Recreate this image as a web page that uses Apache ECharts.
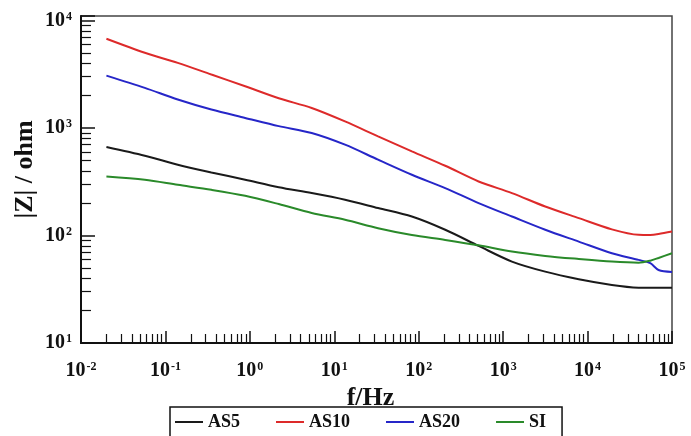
<!DOCTYPE html>
<html>
<head>
<meta charset="utf-8">
<script src="https://cdn.jsdelivr.net/npm/echarts@6/dist/echarts.min.js"></script>
<style>
  html, body { margin: 0; padding: 0; background: #fff; }
  #chart { width: 691px; height: 436px; }
</style>
</head>
<body>
<div id="chart"></div>
<script>
// frequency points (Hz)
const freq = [0.02, 0.057, 0.14, 0.35, 0.88, 2.2, 5.4, 13.4, 33, 83, 206, 512, 1270, 3150, 7870, 19400, 40200, 55300, 69300, 100000]
// |Z| in ohm for each sample
const as5  = [665, 552, 455, 386, 330, 281, 248, 215, 180, 150, 113, 80, 57.2, 46.1, 39.2, 34.7, 32.7, 32.6, 32.6, 32.7]
const as10 = [6750, 5000, 4035, 3140, 2443, 1888, 1535, 1151, 835, 605, 445, 318, 248, 186, 145, 114, 101.4, 101, 103, 108.7]
const as20 = [3070, 2360, 1837, 1483, 1240, 1040, 898, 699, 507, 367, 276, 200, 150, 113, 87.7, 68.4, 59.3, 55.2, 47.8, 45.8]
const si   = [354, 330, 296, 266, 234, 196, 162, 140, 117, 101, 91, 81, 70.8, 64.6, 60.5, 57.2, 55.9, 58.3, 61.8, 68.4]

const seriesNames = ['AS5', 'AS10', 'AS20', 'SI']
const seriesColors = ['#1a1a1a', '#dd2a2a', '#2626c8', '#2a8a2a']
const seriesValues = [as5, as10, as20, si]

const font = 'Liberation Serif, Times New Roman, serif'

function powLabel(value) {
  const e = Math.log10(value)
  if (Math.abs(e - Math.round(e)) > 1e-6) return ''
  return '{b|10}{s|' + Math.round(e) + '}'
}
const labelRich = {
  b: { fontFamily: font, fontWeight: 'bold', fontSize: 20, color: '#111' },
  s: { fontFamily: font, fontWeight: 'bold', fontSize: 12, color: '#111', verticalAlign: 'top', padding: [0, 0, 6, 1] }
}

const chart = echarts.init(document.getElementById('chart'))

chart.setOption({
  animation: false,
  grid: {
    left: 81, right: 19, top: 16, bottom: 93,
    outerBoundsMode: 'none',
    containLabel: false,
    show: true, borderColor: '#444', borderWidth: 1.5
  },
  legend: {
    data: seriesNames,
    left: 170, top: 407,
    padding: [6, 16, 12, 5],
    itemGap: 36, itemWidth: 28, itemHeight: 2,
    borderColor: '#111', borderWidth: 1.5,
    icon: 'rect',
    textStyle: { fontFamily: font, fontWeight: 'bold', fontSize: 18, color: '#111' }
  },
  xAxis: {
    type: 'log', logBase: 10, min: 0.01, max: 100000,
    name: 'f/Hz', nameLocation: 'middle', nameGap: 42,
    nameMoveOverlap: false,
    nameTextStyle: { fontFamily: font, fontWeight: 'bold', fontSize: 26, color: '#111', padding: [0, 12, 0, 0] },
    axisLine: { lineStyle: { color: '#111', width: 2 } },
    axisTick: { inside: true, length: 12, lineStyle: { color: '#111', width: 1.5 } },
    minorTick: { show: true, splitNumber: 9, length: 9, lineStyle: { color: '#111', width: 1.2 } },
    splitLine: { show: false },
    axisLabel: { margin: 18, formatter: powLabel, rich: labelRich }
  },
  yAxis: {
    type: 'log', logBase: 10, min: 10, max: 11000,
    name: '|Z| / ohm', nameLocation: 'middle', nameGap: 43,
    nameMoveOverlap: false,
    nameTextStyle: { fontFamily: font, fontWeight: 'bold', fontSize: 26, color: '#111', padding: [0, 0, 0, 20] },
    axisLine: { lineStyle: { color: '#111', width: 2 } },
    axisTick: { inside: true, length: 14, lineStyle: { color: '#111', width: 1.5 } },
    minorTick: { show: true, splitNumber: 9, length: 10, lineStyle: { color: '#111', width: 1.2 } },
    splitLine: { show: false },
    axisLabel: { margin: 9, formatter: powLabel, rich: labelRich }
  },
  series: seriesNames.map((name, i) => ({
    name: name,
    type: 'line',
    smooth: 0.3,
    showSymbol: false,
    color: seriesColors[i],
    lineStyle: { width: 2 },
    data: freq.map((f, k) => [f, seriesValues[i][k]])
  }))
})
</script>
</body>
</html>
